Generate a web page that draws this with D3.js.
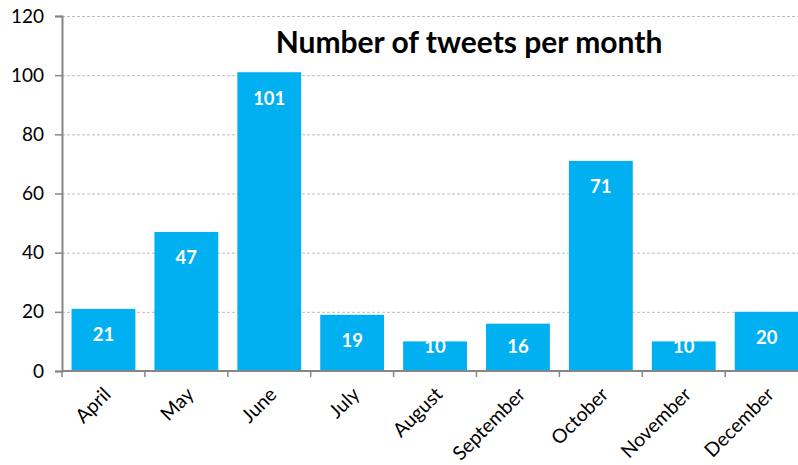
<!DOCTYPE html>
<html>
<head>
<meta charset="utf-8">
<title>Number of tweets per month</title>
<style>
  body { margin: 0; background: #fff; }
  text { font-family: Lato, "Open Sans", sans-serif; }
</style>
</head>
<body>
<script src="https://cdn.jsdelivr.net/npm/d3@7"></script>
<script>
var months = ["April", "May", "June", "July", "August", "September", "October", "November", "December"];
var tweets = [21, 47, 101, 19, 10, 16, 71, 10, 20];
var yTicks = [0, 20, 40, 60, 80, 100, 120];
var title = "Number of tweets per month";

var width = 798, height = 465;
var plotLeft = 62, plotTop = 16, plotBottom = 371;

var svg = d3.select("body").append("svg")
    .attr("width", width)
    .attr("height", height);

var x = d3.scaleBand()
    .domain(months)
    .range([plotLeft, plotLeft + 9 * 82.9])
    .paddingInner(0.23)
    .paddingOuter(0.115);

var y = d3.scaleLinear()
    .domain([0, 120])
    .range([plotBottom, plotTop]);

// gridlines
svg.append("g")
    .selectAll("line")
    .data(yTicks.slice(1))
    .enter()
    .append("line")
    .attr("x1", plotLeft)
    .attr("x2", width)
    .attr("y1", function(d) { return y(d) + 0.5; })
    .attr("y2", function(d) { return y(d) + 0.5; })
    .attr("stroke", "#bdbdbd")
    .attr("stroke-width", 1)
    .attr("stroke-dasharray", "3,2");

// bars
svg.append("g")
    .selectAll("rect")
    .data(tweets)
    .enter()
    .append("rect")
    .attr("x", function(d, i) { return x(months[i]); })
    .attr("y", function(d) { return y(d); })
    .attr("width", x.bandwidth())
    .attr("height", function(d) { return y(0) - y(d); })
    .attr("fill", "#00b0f0");

// value labels
svg.append("g")
    .selectAll("text")
    .data(tweets)
    .enter()
    .append("text")
    .attr("x", function(d, i) { return x(months[i]) + x.bandwidth() / 2; })
    .attr("y", function(d) { return Math.min(y(d) + 26, y(0) - 24); })
    .attr("dy", "0.35em")
    .attr("text-anchor", "middle")
    .attr("fill", "#fff")
    .attr("font-weight", "bold")
    .attr("font-size", 18.5)
    .text(function(d) { return d; });

// y axis
var yAxis = d3.axisLeft(y)
    .tickValues(yTicks)
    .tickSize(7)
    .tickPadding(11);

var gy = svg.append("g")
    .attr("transform", "translate(" + plotLeft + ",0)")
    .call(yAxis);
gy.select(".domain").attr("stroke", "#868686").attr("stroke-width", 2);
gy.selectAll(".tick line").attr("stroke", "#868686").attr("stroke-width", 1.5);
gy.selectAll(".tick text")
    .attr("font-size", 19)
    .attr("fill", "#000")
    .style("font-family", "Lato, 'Open Sans', sans-serif");

// x axis with ticks at band boundaries
var gx = svg.append("g");
gx.append("line")
    .attr("x1", plotLeft)
    .attr("x2", width)
    .attr("y1", plotBottom)
    .attr("y2", plotBottom)
    .attr("stroke", "#868686")
    .attr("stroke-width", 2);
gx.selectAll(".tk")
    .data(months)
    .enter()
    .append("line")
    .attr("class", "tk")
    .attr("x1", function(m) { return x(m) - x.step() * x.paddingOuter(); })
    .attr("x2", function(m) { return x(m) - x.step() * x.paddingOuter(); })
    .attr("y1", plotBottom)
    .attr("y2", plotBottom + 6)
    .attr("stroke", "#868686")
    .attr("stroke-width", 1.5);

gx.selectAll("text")
    .data(months)
    .enter()
    .append("text")
    .attr("transform", function(m) {
        return "translate(" + (x(m) + x.bandwidth() / 2 - 1) + "," + (plotBottom + 15) + ") rotate(-45)";
    })
    .attr("text-anchor", "end")
    .attr("dy", "0.7em")
    .attr("font-size", 19.5)
    .attr("fill", "#000")
    .text(function(m) { return m; });

// title
svg.append("text")
    .attr("x", 469)
    .attr("y", 53)
    .attr("text-anchor", "middle")
    .attr("font-weight", "bold")
    .attr("font-size", 30)
    .attr("fill", "#000")
    .text(title);
</script>
</body>
</html>
